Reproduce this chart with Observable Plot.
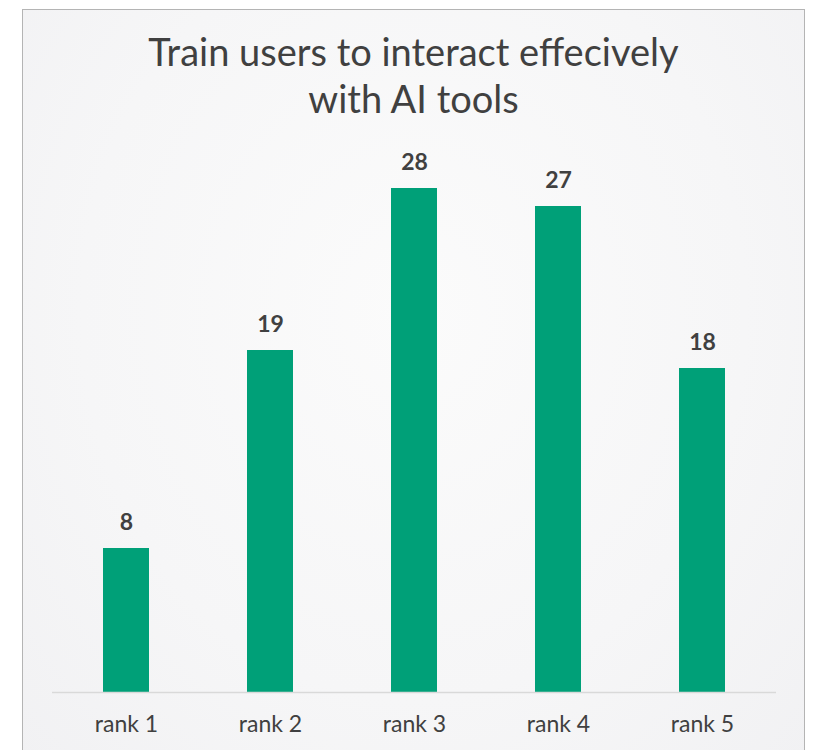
<!DOCTYPE html>
<html>
<head>
<meta charset="utf-8">
<script src="https://cdn.jsdelivr.net/npm/d3@7"></script>
<script src="https://cdn.jsdelivr.net/npm/@observablehq/plot@0.6"></script>
<style>
  html, body { margin: 0; padding: 0; background: #ffffff; }
  #wrap { position: relative; width: 815px; height: 750px; overflow: hidden; background: #ffffff; }
  #frame { position: absolute; left: 22px; top: 9px; width: 783px; height: 760px;
           border: 1.5px solid #b4b4b4; box-sizing: border-box;
           background: radial-gradient(ellipse at 50% 40%, #fbfbfb 0%, #f6f6f7 60%, #f1f1f3 100%); }
  #title { position: absolute; left: 22px; width: 783px; top: 28px; text-align: center;
           font-family: Lato, sans-serif; font-size: 38px; line-height: 47px; color: #404040; }
  #chart { position: absolute; left: 0; top: 0; }
</style>
</head>
<body>
<div id="wrap">
  <div id="frame"></div>
  <div id="chart"></div>
  <div id="title">Train users to interact effecively<br>with AI tools</div>
</div>
<script>
const categories = ["rank 1", "rank 2", "rank 3", "rank 4", "rank 5"];
const values = [8, 19, 28, 27, 18];

const data = categories.map((c, i) => ({category: c, value: values[i]}));

const chart = Plot.plot({
  width: 815,
  height: 750,
  marginLeft: 52,
  marginRight: 39,
  marginBottom: 58,
  marginTop: 62,
  style: {background: "transparent", fontFamily: "Lato, sans-serif", color: "#404040"},
  x: {domain: categories, paddingInner: 0.68, paddingOuter: 0.34, label: null},
  y: {domain: [0, 35], axis: null},
  marks: [
    Plot.barY(data, {x: "category", y: "value", fill: "#00A078"}),
    Plot.ruleY([0], {stroke: "#d9d9d9", strokeWidth: 1.5}),
    Plot.text(data, {x: "category", y: "value", text: d => String(d.value), dy: -26,
      fontSize: 23, fontWeight: "bold", fill: "#404040"}),
    Plot.axisX({tickSize: 0, tickPadding: 23, fontSize: 23, fill: "#404040", label: null})
  ]
});
document.getElementById("chart").appendChild(chart);
</script>
</body>
</html>
